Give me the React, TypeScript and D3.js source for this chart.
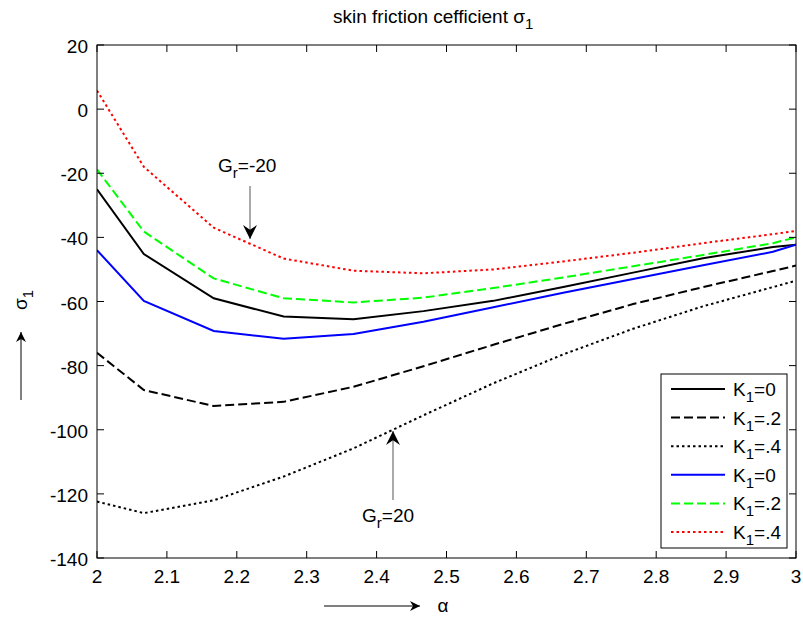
import React from "react";
import * as d3 from "d3";

const alphaValues = [2, 2.067, 2.167, 2.267, 2.367, 2.467, 2.567, 2.667, 2.767, 2.867, 2.967, 3];
const blackK0 = [-25, -45.2, -59, -64.7, -65.5, -63, -59.8, -55.5, -51, -46.5, -43, -42.3];
const blackK2 = [-76, -87.6, -92.6, -91.3, -86.6, -80.2, -73.5, -67, -60.8, -55.5, -50.5, -48.8];
const blackK4 = [-122.4, -126, -122, -114.6, -105.8, -95.5, -85.5, -76.5, -68.5, -61.5, -55.5, -53.5];
const blueK0 = [-44, -59.8, -69.2, -71.6, -70.1, -66.3, -61.8, -57.3, -53, -48.7, -44.5, -42.3];
const greenK2 = [-18.8, -38.2, -52.8, -59, -60.3, -58.8, -55.8, -52.5, -49, -45.5, -41.8, -40];
const redK4 = [5.8, -18, -37, -46.6, -50.4, -51.2, -50, -47.5, -44.8, -41.8, -39, -38];

const legendLabels = ["0", ".2", ".4", "0", ".2", ".4"];
const xTicks = [2, 2.1, 2.2, 2.3, 2.4, 2.5, 2.6, 2.7, 2.8, 2.9, 3];
const yTicks = [20, 0, -20, -40, -60, -80, -100, -120, -140];

const seriesList = [
  { values: blackK0, color: "#000000", dash: "none" },
  { values: blackK2, color: "#000000", dash: "9,4" },
  { values: blackK4, color: "#000000", dash: "2.5,3" },
  { values: blueK0, color: "#0000ff", dash: "none" },
  { values: greenK2, color: "#00ff00", dash: "9,4" },
  { values: redK4, color: "#ff0000", dash: "2.5,3" },
];

const FONT = "'Liberation Sans', Arial, sans-serif";
const FS = 19;

export default function App() {
  const W = 803, H = 618;
  const left = 97, right = 796, top = 45, bottom = 558;
  const x = d3.scaleLinear().domain([2, 3]).range([left, right]);
  const y = d3.scaleLinear().domain([-140, 20]).range([bottom, top]);
  const line = d3.line<number>().x((_, i) => x(alphaValues[i])).y((d) => y(d));
  const tl = 7;

  const legX = 661, legY = 374, legW = 126, legH = 174;
  const rowY0 = 389, rowStep = 28.6;

  return (
    <svg width={W} height={H} style={{ position: "absolute", left: 0, top: 0, background: "#fff" }} fontFamily={FONT}>
      <defs>
        <marker id="ah" viewBox="0 0 10 10" refX="10" refY="5" markerWidth="10" markerHeight="10" markerUnits="userSpaceOnUse" orient="auto">
          <path d="M0,0 L10,5 L0,10 L3,5 Z" fill="#000" />
        </marker>
        <marker id="ah2" viewBox="0 0 12 12" refX="12" refY="6" markerWidth="14" markerHeight="14" markerUnits="userSpaceOnUse" orient="auto">
          <path d="M0,0 L12,6 L0,12 L4,6 Z" fill="#000" />
        </marker>
        <clipPath id="clip"><rect x={left} y={top} width={right - left} height={bottom - top} /></clipPath>
      </defs>
      <rect x={0} y={0} width={W} height={H} fill="#fff" />
      {/* title */}
      <text x={333} y={23} fontSize={FS}>
        skin friction cefficient σ<tspan fontSize={15} dy={6}>1</tspan>
      </text>
      {/* series */}
      <g clipPath="url(#clip)">
        {seriesList.map((s, i) => (
          <path key={i} d={line(s.values) || ""} fill="none" stroke={s.color} strokeWidth={2} strokeDasharray={s.dash} />
        ))}
      </g>
      {/* axes box */}
      <rect x={left} y={top} width={right - left} height={bottom - top} fill="none" stroke="#000" strokeWidth={1} />
      {xTicks.map((t, i) => (
        <g key={"x" + i}>
          <line x1={x(t)} x2={x(t)} y1={bottom} y2={bottom - tl} stroke="#000" />
          <line x1={x(t)} x2={x(t)} y1={top} y2={top + tl} stroke="#000" />
          <text x={x(t)} y={bottom + 25} textAnchor="middle" fontSize={FS}>{String(t)}</text>
        </g>
      ))}
      {yTicks.map((t, i) => (
        <g key={"y" + i}>
          <line x1={left} x2={left + tl} y1={y(t)} y2={y(t)} stroke="#000" />
          <line x1={right} x2={right - tl} y1={y(t)} y2={y(t)} stroke="#000" />
          <text x={left - 9} y={y(t) + 8} textAnchor="end" fontSize={FS}>{String(t)}</text>
        </g>
      ))}
      {/* legend */}
      <rect x={legX} y={legY} width={legW} height={legH} fill="#fff" stroke="#000" strokeWidth={1} />
      {seriesList.map((s, i) => {
        const ry = rowY0 + i * rowStep;
        return (
          <g key={"l" + i}>
            <line x1={671} x2={725} y1={ry} y2={ry} stroke={s.color} strokeWidth={2} strokeDasharray={s.dash} />
            <text x={733} y={ry + 7} fontSize={FS}>
              K<tspan fontSize={15} dy={6}>1</tspan><tspan dy={-6}>={legendLabels[i]}</tspan>
            </text>
          </g>
        );
      })}
      {/* annotations */}
      <text x={218} y={172} fontSize={FS}>
        G<tspan fontSize={15} dy={6}>r</tspan><tspan dy={-6}>=-20</tspan>
      </text>
      <line x1={250} y1={186} x2={250} y2={239} stroke="#555" strokeWidth={1} markerEnd="url(#ah2)" />
      <text x={362} y={522} fontSize={FS}>
        G<tspan fontSize={15} dy={6}>r</tspan><tspan dy={-6}>=20</tspan>
      </text>
      <line x1={393} y1={500} x2={393} y2={431} stroke="#555" strokeWidth={1} markerEnd="url(#ah2)" />
      {/* y label */}
      <text transform="translate(27,300) rotate(-90)" textAnchor="middle" fontSize={FS}>
        σ<tspan fontSize={15} dy={6}>1</tspan>
      </text>
      <line x1={21} y1={400} x2={21} y2={332} stroke="#000" strokeWidth={1} markerEnd="url(#ah)" />
      {/* x label */}
      <line x1={324} y1={606} x2={420} y2={606} stroke="#000" strokeWidth={1} markerEnd="url(#ah)" />
      <text x={443} y={612} textAnchor="middle" fontSize={FS}>α</text>
    </svg>
  );
}
